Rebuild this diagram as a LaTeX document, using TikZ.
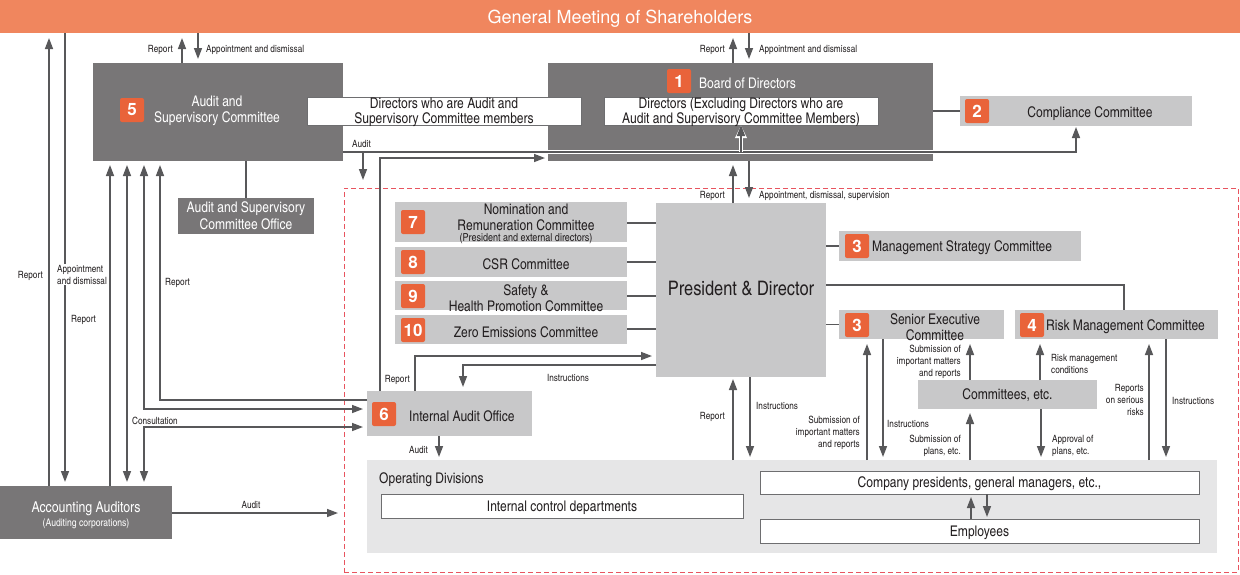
\documentclass[tikz,border=0pt]{standalone}
\usepackage{fontspec}
\setmainfont{texgyreheroscn}[Extension=.otf,UprightFont=*-regular,BoldFont=*-bold]
\newfontfamily\hvfont{texgyreheros}[Extension=.otf,UprightFont=*-regular,BoldFont=*-bold]
\usetikzlibrary{arrows.meta}
\definecolor{banner}{RGB}{240,134,94}
\definecolor{badgec}{RGB}{233,99,58}
\definecolor{dgray}{RGB}{120,118,119}
\definecolor{lgray}{RGB}{200,200,201}
\definecolor{odgray}{RGB}{230,230,231}
\definecolor{linec}{RGB}{88,88,90}
\definecolor{txt}{RGB}{35,31,32}
\definecolor{reddash}{RGB}{232,84,95}
\definecolor{wborder}{RGB}{110,110,112}
\tikzset{
  box/.style={anchor=north west, inner sep=0pt, outer sep=0pt, draw=none},
  dbox/.style={box, fill=dgray},
  lbox/.style={box, fill=lgray},
  wbox/.style={box, fill=white, draw=wborder, line width=0.8pt},
  intext/.style={font=\fontsize{14.7}{15}\selectfont, text=txt, align=center, text depth=0pt},
  badge/.style={fill=badgec, rounded corners=2pt, minimum size=24pt, inner sep=0pt, text=white, font=\hvfont\bfseries\fontsize{17}{17}\selectfont},
  lbl/.style={font=\fontsize{10}{12}\selectfont, inner sep=1pt, text=txt, yshift=-1.5pt},
  btxt/.style={font=\fontsize{14.7}{16}\selectfont, text=txt, align=center, inner sep=0pt, yshift=-1pt},
  wtxt/.style={btxt, text=white},
  conn/.style={draw=linec, line width=1.5pt},
  arr/.style={conn, -{Triangle[length=11pt,width=8pt]}, shorten >=4pt},
  darr/.style={conn, {Triangle[length=11pt,width=8pt]}-{Triangle[length=11pt,width=8pt]}, shorten >=4pt, shorten <=4pt},
}
\begin{document}
\begin{tikzpicture}[x=1pt,y=-1pt]
\useasboundingbox (0,0) rectangle (1240,574);
% guide coordinates
\foreach \v in {49,65,110,127,144,160,182,198,363,380,415,439,463,733,749,750,867,883,970,971,987,1040,1041,1124,1149,1166}{\coordinate (v\v) at (\v,0);}
\foreach \h in {152,158,223,262,285,296,329,356,365,400,409,427,513}{\coordinate (h\h) at (0,\h);}

% dashed control region
\node[box, draw=reddash, dash pattern=on 5pt off 3pt, line width=1pt, minimum width=894pt, minimum height=384pt] (ctl) at (344,188) {};

% banner
\node[box, fill=banner, minimum width=1240pt, minimum height=33pt, text=white, text depth=0pt, font=\hvfont\fontsize{18}{18}\selectfont] (gm) at (0,0) {General Meeting of Shareholders};

% Audit and Supervisory Committee
\node[dbox, minimum width=250pt, minimum height=98pt] (ac) at (93,63) {};
\node[badge] (b5) at (132,110) {5};
\node[wtxt] (act) at (217,110) {Audit and\\Supervisory Committee};

% Board of Directors
\node[dbox, minimum width=385pt, minimum height=98pt] (bd) at (548,63) {};
\node[badge] (b1) at (679,81) {1};
\node[wtxt, anchor=west] (bdt) at (699,82) {Board of Directors};
\node[wbox, minimum width=274pt, minimum height=28pt, intext] (wa) at (307,97) {Directors who are Audit and\\Supervisory Committee members};
\node[wbox, minimum width=274pt, minimum height=28pt, intext] (wb) at (604,97) {Directors (Excluding Directors who are\\Audit and Supervisory Committee Members)};

% Compliance
\node[lbox, minimum width=232pt, minimum height=30pt] (cc) at (960,96) {};
\node[badge] (b2) at (977,111) {2};
\node[btxt] (cct) at (1090,113) {Compliance Committee};

% Audit and Supervisory Committee Office
\node[dbox, minimum width=136pt, minimum height=36pt, intext, text=white, font=\fontsize{14.7}{17}\selectfont] (aso) at (178,198) {Audit and Supervisory\\Committee Office};

% Committees 7-10
\node[lbox, minimum width=232pt, minimum height=40pt] (c7) at (395,202) {};
\node[badge] (b7) at (413,222) {7};
\node[btxt] (c7t) at (526,216) {Nomination and\\Remuneration Committee};
\node[btxt, font=\fontsize{11}{11}\selectfont] (c7s) at (526,238) {(President and external directors)};
\node[lbox, minimum width=232pt, minimum height=30pt] (c8) at (395,247) {};
\node[badge] (b8) at (413,262) {8};
\node[btxt] (c8t) at (526,263) {CSR Committee};
\node[lbox, minimum width=232pt, minimum height=29pt] (c9) at (395,281) {};
\node[badge] (b9) at (413,296) {9};
\node[btxt] (c9t) at (526,297) {Safety \&\\Health Promotion Committee};
\node[lbox, minimum width=232pt, minimum height=29pt] (c10) at (395,315) {};
\node[badge] (b10) at (413,330) {10};
\node[btxt] (c10t) at (526,331) {Zero Emissions Committee};

% President
\node[lbox, minimum width=170pt, minimum height=174pt] (pd) at (656,203) {};
\node[btxt, font=\fontsize{20}{22}\selectfont] (pdt) at (741,287) {President \& Director};

% Management strategy
\node[lbox, minimum width=242pt, minimum height=30pt] (ms) at (839,231) {};
\node[badge] (b3a) at (857,246) {3};
\node[btxt, anchor=west] (mst) at (872,247) {Management Strategy Committee};

% Senior executive
\node[lbox, minimum width=165pt, minimum height=29pt] (se) at (839,310) {};
\node[badge] (b3b) at (857,325) {3};
\node[btxt] (set) at (935,326) {Senior Executive\\Committee};

% Risk management
\node[lbox, minimum width=203pt, minimum height=29pt] (rm) at (1015,310) {};
\node[badge] (b4) at (1032,325) {4};
\node[btxt, anchor=west] (rmt) at (1046,326) {Risk Management Committee};

% Committees etc
\node[lbox, minimum width=179pt, minimum height=29pt, intext] (ce) at (918,380) {Committees, etc.};

% Internal audit office
\node[lbox, minimum width=165pt, minimum height=45pt] (iao) at (367,391) {};
\node[badge] (b6) at (384,414) {6};
\node[btxt, anchor=west] (iaot) at (409,415) {Internal Audit Office};

% Operating divisions
\node[box, fill=odgray, minimum width=850pt, minimum height=93pt] (od) at (367,460) {};
\node[btxt, anchor=west] (odt) at (379,479) {Operating Divisions};
\node[wbox, minimum width=362pt, minimum height=24pt, intext] (icd) at (381,494) {Internal control departments};
\node[wbox, minimum width=439pt, minimum height=23pt, intext] (cp) at (760,471) {Company presidents, general managers, etc.,};
\node[wbox, minimum width=439pt, minimum height=24pt, intext] (emp) at (760,519) {Employees};

% Accounting auditors
\node[dbox, minimum width=172pt, minimum height=53pt] (aa) at (0,486) {};
\node[wtxt, font=\fontsize{15}{16}\selectfont] (aat) at (86,508) {Accounting Auditors};
\node[wtxt, font=\fontsize{10.5}{11}\selectfont] (aas) at (86,523) {(Auditing corporations)};

% ---------------- connectors ----------------
\draw[arr, shorten >=5pt] (aa.north -| v49) -- (gm.south -| v49);
\draw[arr] (gm.south -| v65) -- (aa.north -| v65);
\draw[arr] (aa.north -| v110) -- (ac.south -| v110);
\draw[darr] (ac.south -| v127) -- (aa.north -| v127);
\draw[darr] (ac.south -| v144) |- (iao.west |- h409);
\draw[darr] (aa.north -| v144) |- (iao.west |- h427);
\draw[arr] (iao.west |- h400) -| (ac.south -| v160);
\draw[arr, shorten >=5pt] (ac.north -| v182) -- (gm.south -| v182);
\draw[arr] (gm.south -| v198) -- (ac.north -| v198);
\draw[arr, shorten >=5pt] (bd.north -| v733) -- (gm.south -| v733);
\draw[arr] (gm.south -| v749) -- (bd.north -| v749);
\draw[conn] (ac.south -| aso.north) -- (aso.north);
% audit line through board, with white casing
\draw[arr, shorten >=1pt, preaction={draw=white, line width=4.5pt}] (ac.east |- h152) -| (cc.south);
\draw[arr, shorten >=8pt] (v363 |- h152) -- (ctl.north -| v363);
\draw[arr, shorten >=0pt, preaction={draw=white, line width=4.5pt, -{Triangle[length=13pt,width=11pt]}}] (wb.south |- h152) -- (wb.south);
\draw[arr, shorten >=3pt] (iao.north -| v380) |- (bd.west |- h158);
\draw[arr] (iao.north -| v415) |- (pd.west |- h356);
\draw[arr] (pd.west |- h365) -| (iao.north -| v463);
\draw[arr, shorten >=3pt] (iao.south -| v439) -- (od.north -| v439);
\draw[conn] (c7.east |- h223) -- (pd.west |- h223);
\draw[conn] (c8.east |- h262) -- (pd.west |- h262);
\draw[conn] (c9.east |- h296) -- (pd.west |- h296);
\draw[conn] (c10.east |- h329) -- (pd.west |- h329);
\draw[conn] (pd.east |- ms.west) -- (ms.west);
\draw[conn] (pd.east |- se.west) -- (se.west);
\draw[conn] (pd.east |- h285) -| (rm.north -| v1124);
\draw[conn] (bd.east |- cc.west) -- (cc.west);
\draw[arr] (pd.north -| v733) -- (bd.south -| v733);
\draw[arr, shorten >=5pt] (bd.south -| v749) -- (pd.north -| v749);
\draw[arr, shorten >=2pt] (od.north -| v733) -- (pd.south -| v733);
\draw[arr, shorten >=3pt] (pd.south -| v750) -- (od.north -| v750);
\draw[arr, shorten >=5pt] (od.north -| v867) -- (se.south -| v867);
\draw[arr, shorten >=3pt] (se.south -| v883) -- (od.north -| v883);
\draw[arr, shorten >=5pt] (ce.north -| v970) -- (se.south -| v970);
\draw[arr] (od.north -| v970) -- (ce.south -| v970);
\draw[arr, shorten >=3pt] (ce.south -| v1041) -- (od.north -| v1041);
\draw[arr, shorten >=5pt] (ce.north -| v1040) -- (rm.south -| v1040);
\draw[arr, shorten >=5pt] (od.north -| v1149) -- (rm.south -| v1149);
\draw[arr, shorten >=3pt] (rm.south -| v1166) -- (od.north -| v1166);
\draw[arr, shorten >=3pt] (emp.north -| v971) -- (cp.south -| v971);
\draw[arr, shorten >=2pt] (cp.south -| v987) -- (emp.north -| v987);
\draw[arr, shorten >=6pt] (aa.east |- h513) -- (ctl.west |- h513);

% ---------------- labels ----------------
\node[lbl, anchor=east] (l1) at (44,274) {Report};
\node[lbl, anchor=west, fill=white, align=left] (l2) at (56,273) {Appointment\\and dismissal};
\node[lbl, anchor=west] (l3) at (70,318) {Report};
\node[lbl, anchor=west] (l4) at (164,281) {Report};
\node[lbl, anchor=west] (l5) at (131,419) {Consultation};
\node[lbl, anchor=east] (l6) at (174,48) {Report};
\node[lbl, anchor=west] (l7) at (205,48) {Appointment and dismissal};
\node[lbl, anchor=east] (l8) at (726,48) {Report};
\node[lbl, anchor=west] (l9) at (758,48) {Appointment and dismissal};
\node[lbl, anchor=west] (l10) at (351,142) {Audit};
\node[lbl, anchor=east] (l11) at (726,194) {Report};
\node[lbl, anchor=west] (l12) at (758,194) {Appointment, dismissal, supervision};
\node[lbl, anchor=east] (l13) at (411,378) {Report};
\node[lbl] (l14) at (568,376) {Instructions};
\node[lbl, anchor=east] (l15) at (429,448) {Audit};
\node[lbl, anchor=east] (l16) at (726,415) {Report};
\node[lbl, anchor=west] (l17) at (755,404) {Instructions};
\node[lbl, anchor=east, align=right] (l18) at (861,431) {Submission of\\important matters\\and reports};
\node[lbl, anchor=west] (l19) at (886,422) {Instructions};
\node[lbl, anchor=east, align=right] (l20) at (962,360) {Submission of\\important matters\\and reports};
\node[lbl, anchor=east, align=right] (l21) at (962,444) {Submission of\\plans, etc.};
\node[lbl, anchor=west, align=left] (l22) at (1051,444) {Approval of\\plans, etc.};
\node[lbl, anchor=west, align=left] (l23) at (1050,362) {Risk management\\conditions};
\node[lbl, anchor=east, align=right] (l24) at (1145,398) {Reports\\on serious\\risks};
\node[lbl, anchor=west] (l25) at (1171,399) {Instructions};
\node[lbl] (l26) at (251,503) {Audit};
\end{tikzpicture}
\end{document}
